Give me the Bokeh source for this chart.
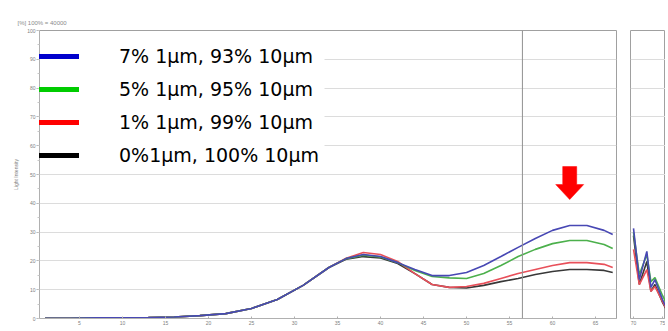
from bokeh.plotting import figure
from bokeh.models import Range1d, FixedTicker, Span, Legend, LegendItem, BoxAnnotation
from bokeh.layouts import row
from bokeh.embed import file_html
from bokeh.resources import INLINE

# ---------------- data ----------------
x_main = [1, 4, 7, 10, 13, 16, 19, 22, 25, 28, 31, 34, 36, 38, 40, 42, 44, 46, 48, 50,
          52, 54, 56, 58, 60, 62, 64, 66, 67]
blue = [0.1, 0.1, 0.2, 0.2, 0.3, 0.5, 1.0, 1.7, 3.5, 6.6, 11.5, 17.7, 20.8, 22.2, 21.5, 19.4,
        17.0, 14.9, 14.9, 16.0, 18.4, 21.5, 24.7, 27.8, 30.6, 32.3, 32.3, 30.6, 29.2]
green = [0.1, 0.1, 0.2, 0.2, 0.3, 0.5, 1.0, 1.7, 3.5, 6.6, 11.5, 17.7, 20.8, 22.0, 21.4, 19.4,
         16.7, 14.6, 14.1, 13.9, 15.6, 18.4, 21.5, 24.0, 26.0, 27.1, 27.1, 25.7, 24.3]
red = [0.1, 0.1, 0.2, 0.2, 0.3, 0.5, 1.0, 1.7, 3.5, 6.6, 11.5, 17.7, 20.9, 22.9, 22.2, 19.8,
       15.6, 11.8, 10.8, 11.1, 12.2, 13.9, 15.6, 17.0, 18.4, 19.4, 19.4, 18.8, 17.7]
black = [0.1, 0.1, 0.2, 0.2, 0.3, 0.5, 1.0, 1.7, 3.5, 6.6, 11.5, 17.7, 20.6, 21.5, 21.0, 19.1,
         15.6, 11.8, 10.8, 10.6, 11.5, 12.8, 13.9, 15.3, 16.3, 17.0, 17.0, 16.7, 16.0]

x_side = [70, 71, 72.3, 73, 73.7, 75, 76]
blue_side = [31.3, 13.5, 23.3, 10.8, 13.5, 6.6, 2.4]
green_side = [29.9, 15.3, 22.2, 12.8, 14.2, 8.0, 4.0]
red_side = [24.0, 11.8, 17.0, 9.4, 11.1, 5.9, 2.0]
black_side = [28.8, 11.8, 19.8, 9.4, 11.8, 5.6, 1.8]

labels = ["7% 1µm, 93% 10µm", "5% 1µm, 95% 10µm", "1% 1µm, 99% 10µm", "0%1µm, 100% 10µm"]
legend_colors = ["#0000cc", "#00cc00", "#ff0000", "#000000"]
curve_colors = ["#4848b4", "#4cb04c", "#e8505a", "#383838"]

y_ticks = list(range(0, 101, 10))
x_ticks = list(range(5, 66, 5))
x_side_ticks = [70, 75]
marker_x = 56.5
arrow_x = 62
arrow_tip = 41.3
title_text = "[%] 100% = 40000"
y_label = "Light Intensity"

FONT = "Liberation Sans"
X0, X1 = 0.35, 67.44
FRAME_W, FRAME_H = 577, 288
PX_X = FRAME_W / (X1 - X0)   # pixels per x unit
PX_Y = FRAME_H / 100.0        # pixels per y unit


def style(p):
    p.outline_line_color = "#a0a0a0"
    p.xgrid.visible = False
    p.ygrid.grid_line_color = "#dcdcdc"
    p.ygrid.ticker = FixedTicker(ticks=y_ticks)
    p.background_fill_color = "white"
    p.border_fill_color = "white"
    for ax in p.axis:
        ax.axis_line_color = "#b0b0b0"
        ax.major_tick_line_color = "#b0b0b0"
        ax.minor_tick_line_color = "#c8c8c8"
        ax.major_label_text_font_size = "5px"
        ax.major_label_text_color = "#808080"
        ax.major_label_text_font = FONT
        ax.major_label_standoff = 1


p1 = figure(width=627, height=329, x_range=Range1d(X0, X1), y_range=Range1d(0, 100),
            min_border_left=39, min_border_right=11, min_border_top=30, min_border_bottom=11,
            toolbar_location=None, output_backend="svg", title=title_text)
style(p1)
p1.title.text_font_size = "6px"
p1.title.text_color = "#8a8a8a"
p1.title.text_font = FONT
p1.title.text_font_style = "normal"
p1.title.align = "left"
p1.title.offset = -22
p1.xaxis.ticker = FixedTicker(ticks=x_ticks)
p1.xaxis.major_tick_in = 2
p1.xaxis.major_tick_out = 0
p1.xaxis.minor_tick_line_color = None
p1.xaxis.major_label_standoff = 2
p1.yaxis.ticker = FixedTicker(ticks=y_ticks, minor_ticks=list(range(0, 101, 5)))
p1.yaxis.major_tick_in = 0
p1.yaxis.major_tick_out = 3
p1.yaxis.minor_tick_in = 0
p1.yaxis.minor_tick_out = 2
p1.yaxis.axis_label = y_label
p1.yaxis.axis_label_text_font_size = "5px"
p1.yaxis.axis_label_text_color = "#808080"
p1.yaxis.axis_label_text_font = FONT
p1.yaxis.axis_label_text_font_style = "normal"
p1.yaxis.axis_label_standoff = 5

# white area behind the legend hides the grid lines there
p1.add_layout(BoxAnnotation(left=X0, right=X0 + 285 / PX_X, bottom=151 / PX_Y, top=274 / PX_Y,
                            fill_color="white", fill_alpha=1, line_color=None, level="underlay"))

p1.add_layout(Span(location=marker_x, dimension="height", line_color="#909090", line_width=1))

series = [blue, green, red, black]
for ys, c in zip(series[::-1], curve_colors[::-1]):
    p1.line(x_main, ys, line_color=c, line_width=1.6)

# legend swatches: same series, thick lines, mapped to an off-screen range
p1.extra_x_ranges = {"swatch": Range1d(-1000, -999)}
swatches = [p1.line(x_main, ys, line_color=c, line_width=5, x_range_name="swatch")
            for ys, c in zip(series, legend_colors)]
legend = Legend(items=[LegendItem(label=l, renderers=[r]) for l, r in zip(labels, swatches)],
                location=(-10, 152), glyph_width=50, glyph_height=20, label_height=20,
                label_standoff=40, spacing=11, padding=0, margin=0,
                border_line_color=None, background_fill_alpha=0,
                label_text_font="DejaVu Sans", label_text_font_size="19px",
                label_text_color="black")
p1.add_layout(legend)

# red down arrow (shape offsets in pixels relative to its tip)
arrow_dx = [0, -14, -7, -7, 7, 7, 14]
arrow_dy = [0, 15, 15, 33, 33, 15, 15]
p1.patch([arrow_x + d / PX_X for d in arrow_dx], [arrow_tip + d / PX_Y for d in arrow_dy],
         fill_color="#ff0000", line_color="#ff0000", line_width=0.5)

p2 = figure(width=38, height=329, x_range=Range1d(69.48, 75.52), y_range=Range1d(0, 100),
            min_border_left=3, min_border_right=0, min_border_top=30, min_border_bottom=11,
            toolbar_location=None, output_backend="svg")
style(p2)
p2.yaxis.visible = False
p2.xaxis.ticker = FixedTicker(ticks=x_side_ticks)
p2.xaxis.major_tick_in = 2
p2.xaxis.major_tick_out = 0
p2.xaxis.minor_tick_line_color = None
p2.xaxis.major_label_standoff = 2
side = [blue_side, green_side, red_side, black_side]
for ys, c in zip(side[::-1], curve_colors[::-1]):
    p2.line(x_side, ys, line_color=c, line_width=1.6)

layout = row(p1, p2)
open("out.html", "w").write(file_html(layout, INLINE))
